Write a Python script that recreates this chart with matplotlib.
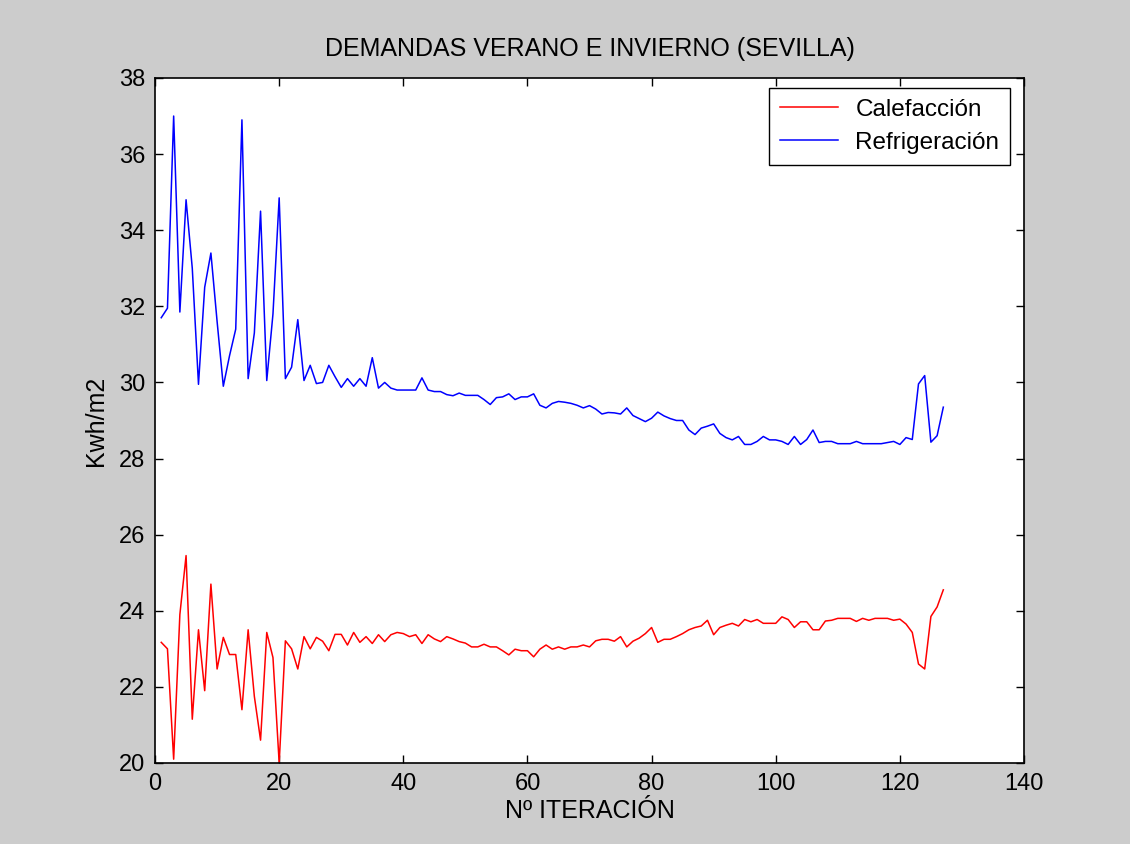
import matplotlib
matplotlib.use("Agg")
import matplotlib.pyplot as plt
import numpy as np

plt.rcParams['font.family'] = ['Liberation Sans', 'DejaVu Sans']

# demanda por iteración (kWh/m2)
calefaccion = [
    23.17, 23.0, 20.1, 23.9, 25.45, 21.15, 23.5, 21.9, 24.7, 22.47,
    23.3, 22.85, 22.85, 21.4, 23.5, 21.75, 20.6, 23.43, 22.77, 20.0,
    23.21, 23.0, 22.47, 23.32, 23.0, 23.3, 23.2, 22.95, 23.38, 23.38,
    23.1, 23.43, 23.17, 23.32, 23.14, 23.37, 23.19, 23.37, 23.43, 23.4,
    23.32, 23.37, 23.14, 23.37, 23.26, 23.19, 23.32, 23.26, 23.19, 23.15,
    23.05, 23.05, 23.12, 23.05, 23.05, 22.95, 22.84, 22.99, 22.95, 22.95,
    22.79, 22.99, 23.1, 22.99, 23.05, 22.99, 23.05, 23.05, 23.1, 23.05,
    23.21, 23.25, 23.25, 23.2, 23.32, 23.05, 23.2, 23.28, 23.4, 23.56,
    23.17, 23.25, 23.25, 23.32, 23.4, 23.5, 23.56, 23.6, 23.75, 23.37,
    23.56, 23.62, 23.67, 23.6, 23.77, 23.71, 23.77, 23.67, 23.67, 23.67,
    23.84, 23.77, 23.56, 23.71, 23.71, 23.5, 23.5, 23.73, 23.75, 23.8,
    23.8, 23.8, 23.72, 23.8, 23.75, 23.8, 23.8, 23.8, 23.75, 23.78,
    23.65, 23.43, 22.6, 22.47, 23.85, 24.1, 24.55,
]
refrigeracion = [
    31.7, 31.95, 37.0, 31.85, 34.8, 33.0, 29.95, 32.5, 33.4, 31.6,
    29.9, 30.7, 31.4, 36.9, 30.1, 31.3, 34.5, 30.05, 31.8, 34.85,
    30.1, 30.4, 31.65, 30.05, 30.45, 29.97, 30.0, 30.45, 30.15, 29.87,
    30.1, 29.9, 30.1, 29.9, 30.65, 29.85, 30.0, 29.85, 29.8, 29.8,
    29.8, 29.8, 30.12, 29.8, 29.76, 29.76, 29.68, 29.65, 29.72, 29.66,
    29.66, 29.66, 29.55, 29.42, 29.6, 29.62, 29.7, 29.55, 29.62, 29.62,
    29.7, 29.4, 29.33, 29.45, 29.5, 29.48, 29.45, 29.4, 29.33, 29.39,
    29.3, 29.17, 29.21, 29.2, 29.17, 29.33, 29.13, 29.05, 28.97, 29.06,
    29.22, 29.12, 29.05, 29.0, 29.0, 28.75, 28.63, 28.8, 28.85, 28.91,
    28.66, 28.55, 28.49, 28.58, 28.37, 28.37, 28.45, 28.58, 28.49, 28.49,
    28.45, 28.37, 28.58, 28.37, 28.5, 28.75, 28.42, 28.45, 28.45, 28.39,
    28.39, 28.39, 28.45, 28.39, 28.39, 28.39, 28.39, 28.42, 28.45, 28.37,
    28.55, 28.5, 29.96, 30.18, 28.43, 28.6, 29.35,
]
iteracion = np.arange(1, len(calefaccion) + 1)

xticks = [0, 20, 40, 60, 80, 100, 120, 140]
yticks = [20, 22, 24, 26, 28, 30, 32, 34, 36, 38]

fig = plt.figure(figsize=(11.3, 8.44), dpi=100, facecolor='#cccccc')
ax = fig.add_axes([0.1372, 0.096, 0.7690, 0.8116])
ax.set_facecolor('white')

ax.plot(iteracion, calefaccion, color='#ff0000', lw=1.1, label='Calefacción')
ax.plot(iteracion, refrigeracion, color='#0000ff', lw=1.1, label='Refrigeración')

ax.set_xlim(0, 140)
ax.set_ylim(20, 38)
ax.set_xticks(xticks)
ax.set_yticks(yticks)
ax.tick_params(direction='in', length=6, width=1, labelsize=17,
               top=True, right=True, pad=7)
for sp in ax.spines.values():
    sp.set_linewidth(1.2)

ax.set_title('DEMANDAS VERANO E INVIERNO (SEVILLA)', fontsize=18, pad=16)
ax.set_xlabel('Nº ITERACIÓN', fontsize=18, labelpad=3)
ax.set_ylabel('Kwh/m2', fontsize=18, labelpad=8)

# legend box in the upper right corner, MATLAB style
leg = ax.legend(loc='upper right', bbox_to_anchor=(0.894, 0.896),
                bbox_transform=fig.transFigure, borderaxespad=0,
                fontsize=17.5, fancybox=False, edgecolor='black',
                framealpha=1, handlelength=2.4, handletextpad=0.7,
                borderpad=0.45, labelspacing=0.45)
leg.get_frame().set_linewidth(1.0)

fig.savefig('out.png', dpi=100, facecolor=fig.get_facecolor())
